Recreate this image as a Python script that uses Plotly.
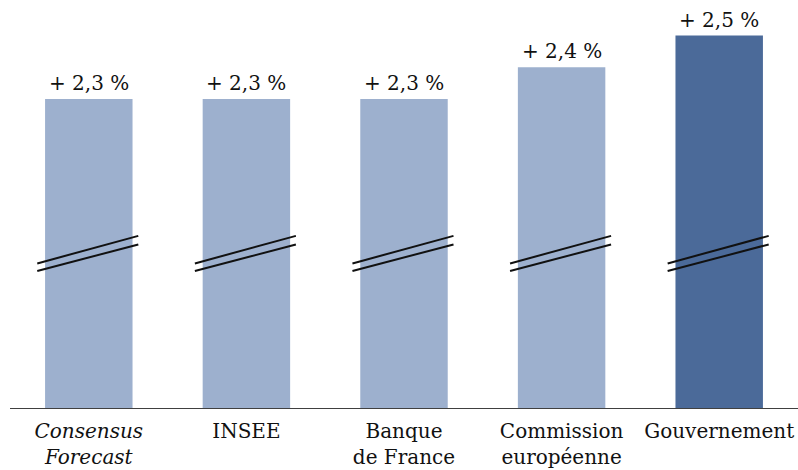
import plotly.graph_objects as go

categories = ["<i>Consensus</i><br><i>Forecast</i>", "INSEE", "Banque<br>de France",
              "Commission<br>européenne", "Gouvernement"]
values = [2.3, 2.3, 2.3, 2.4, 2.5]
bar_colors = ["#9DB0CE", "#9DB0CE", "#9DB0CE", "#9DB0CE", "#4B6A99"]
value_labels = ["+ " + f"{v:.1f}".replace(".", ",") + " %" for v in values]

y_min, y_max = 1.325, 2.612
# axis-break marks (data units)
break_left, break_right = -0.327, 0.314
break_upper = (1.781, 1.868)
break_lower = (1.757, 1.841)

FONT = "DejaVu Serif"

fig = go.Figure()
fig.add_trace(go.Bar(
    x=list(range(len(categories))), y=[v - y_min for v in values],
    marker=dict(color=bar_colors, line=dict(width=0)),
    width=0.555, base=y_min,
    cliponaxis=False,
))
# value labels
for i, (v, t) in enumerate(zip(values, value_labels)):
    fig.add_annotation(x=i, y=v, text=t, showarrow=False, yanchor="bottom",
                       yshift=2, font=dict(family=FONT, size=20, color="#111111"))
# break marks
for i in range(len(categories)):
    for (yl, yr) in (break_upper, break_lower):
        fig.add_shape(type="line", x0=i + break_left, x1=i + break_right,
                      y0=yl, y1=yr, xref="x", yref="y",
                      line=dict(color="#111111", width=2))

fig.update_layout(
    width=798, height=470,
    margin=dict(l=10, r=0, t=0, b=62),
    paper_bgcolor="white", plot_bgcolor="white",
    showlegend=False,
    xaxis=dict(
        tickmode="array", tickvals=list(range(len(categories))), ticktext=categories,
        range=[-0.5, 4.5], showline=True, linecolor="#404040", linewidth=1.3,
        showgrid=False, zeroline=False, ticks="outside", ticklen=5, tickcolor="rgba(0,0,0,0)",
        tickfont=dict(family=FONT, size=20, color="#111111"),
    ),
    yaxis=dict(range=[y_min, y_max], visible=False, showgrid=False, zeroline=False),
)
fig.write_html("out.html")
